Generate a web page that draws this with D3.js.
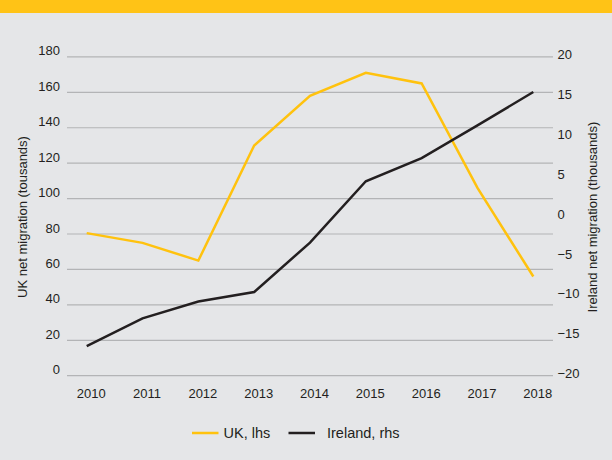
<!DOCTYPE html>
<html>
<head>
<meta charset="utf-8">
<script src="https://cdn.jsdelivr.net/npm/d3@7"></script>
<style>
  body { margin: 0; background: #e5e6e8; }
  svg { display: block; font-family: "Liberation Sans", Arial, sans-serif; }
</style>
</head>
<body>
<div id="chart"></div>
<script>
// data
var years = [2010, 2011, 2012, 2013, 2014, 2015, 2016, 2017, 2018];
var ukValues = [80.5, 75, 65, 130, 158, 171, 165, 106, 56];        // lhs, thousands
var irelandValues = [-16.3, -12.8, -10.7, -9.5, -3.3, 4.4, 7.3, 11.4, 15.6]; // rhs, thousands
var leftTicks = [0, 20, 40, 60, 80, 100, 120, 140, 160, 180];
var rightTicks = [-20, -15, -10, -5, 0, 5, 10, 15, 20];
var seriesNames = ["UK, lhs", "Ireland, rhs"];

var W = 612, H = 460;
var yellow = "#ffc20e", black = "#231f20";

var svg = d3.select("#chart").append("svg")
  .attr("width", W).attr("height", H);

svg.append("rect").attr("width", W).attr("height", H).attr("fill", "#e5e6e8");
// yellow band at top
svg.append("rect").attr("width", W).attr("height", 13).attr("fill", "#ffc316");

var x = d3.scalePoint().domain(years).range([86.7, 533.3]);
var yL = d3.scaleLinear().domain([0, 180]).range([375.7, 56.9]);
var yR = d3.scaleLinear().domain([-20, 20]).range([375.7, 56.9]);

// gridlines
svg.append("g")
  .selectAll("line")
  .data(leftTicks)
  .join("line")
  .attr("x1", 67).attr("x2", 553)
  .attr("y1", d => yL(d)).attr("y2", d => yL(d))
  .attr("stroke", "#b3b4b6").attr("stroke-width", 1.2);

// left axis labels
var leftAxis = d3.axisLeft(yL).tickValues(leftTicks).tickSize(0).tickPadding(0);
var gl = svg.append("g").attr("transform", "translate(60,0)").call(leftAxis);
gl.select(".domain").remove();
gl.selectAll("text").attr("font-size", 13).attr("fill", "#231f20")
  .attr("font-family", "Liberation Sans, Arial, sans-serif").attr("dy", "-0.15em");

// right axis labels
var rightAxis = d3.axisRight(yR).tickValues(rightTicks).tickSize(0).tickPadding(0);
var gr = svg.append("g").attr("transform", "translate(557.5,0)").call(rightAxis);
gr.select(".domain").remove();
gr.selectAll("text").attr("font-size", 13).attr("fill", "#231f20")
  .attr("font-family", "Liberation Sans, Arial, sans-serif").attr("dy", "0.15em");

// x axis labels
var xAxis = d3.axisBottom(x).tickSize(0).tickPadding(0);
var gx = svg.append("g").attr("transform", "translate(4,389)").call(xAxis);
gx.select(".domain").remove();
gx.selectAll("text").attr("font-size", 13).attr("fill", "#231f20")
  .attr("font-family", "Liberation Sans, Arial, sans-serif").attr("dy", "0.7em");

// axis titles
svg.append("text")
  .attr("transform", "translate(27,217) rotate(-90)")
  .attr("text-anchor", "middle").attr("font-size", 13).attr("fill", "#231f20")
  .text("UK net migration (tousands)");
svg.append("text")
  .attr("transform", "translate(597,217) rotate(-90)")
  .attr("text-anchor", "middle").attr("font-size", 13).attr("fill", "#231f20")
  .text("Ireland net migration (thousands)");

// lines
var lineL = d3.line().x((d, i) => x(years[i])).y(d => yL(d));
var lineR = d3.line().x((d, i) => x(years[i])).y(d => yR(d));

svg.append("path").datum(ukValues).attr("d", lineL)
  .attr("fill", "none").attr("stroke", yellow).attr("stroke-width", 2.5);
svg.append("path").datum(irelandValues).attr("d", lineR)
  .attr("fill", "none").attr("stroke", black).attr("stroke-width", 2.5);

// legend
var legend = [
  { name: seriesNames[0], color: yellow, x: 192 },
  { name: seriesNames[1], color: black, x: 288.5 }
];
var lg = svg.append("g").selectAll("g").data(legend).join("g")
  .attr("transform", d => "translate(" + d.x + ",433)");
lg.append("line").attr("x1", 0).attr("x2", 26.5)
  .attr("stroke", d => d.color).attr("stroke-width", 2.5);
lg.append("text").attr("x", (d, i) => i === 0 ? 31.5 : 38.5).attr("dy", "0.35em")
  .attr("font-size", 14.5).attr("fill", "#231f20").text(d => d.name);
</script>
</body>
</html>
